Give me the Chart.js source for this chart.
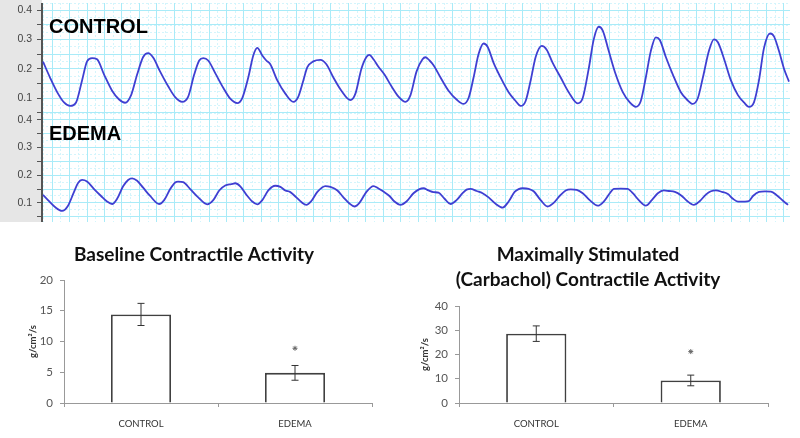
<!DOCTYPE html>
<html>
<head>
<meta charset="utf-8">
<script src="https://cdn.jsdelivr.net/npm/chart.js@4.4.1/dist/chart.umd.min.js"></script>
<style>
  body { margin: 0; width: 800px; height: 438px; background: #fff; position: relative; overflow: hidden; }
  canvas, .lbl, .strip { position: absolute; }
  .strip { left: 0; top: 0; width: 42px; height: 222px; background: #e6e6e6; }
  .lbl { left: 49px; font: bold 20px "Liberation Sans", Arial, sans-serif; line-height: 20px; color: #000; }
</style>
</head>
<body>
<div class="strip"></div>
<canvas id="control" width="790" height="110" style="left:0;top:3px"></canvas>
<canvas id="edema" width="790" height="109" style="left:0;top:113px"></canvas>
<div class="lbl" style="top:16px">CONTROL</div>
<div class="lbl" style="top:123px">EDEMA</div>
<canvas id="baseline" width="372" height="208" style="left:16px;top:230px"></canvas>
<canvas id="carbachol" width="368" height="208" style="left:408px;top:230px"></canvas>
<script>
// ---- tension traces (time in arbitrary units, force in g) ----
const controlTime = [43,50,58,64,70,76,82,87,92,97,104,112,119,125,131,137,143,148,153,160,168,175,182,188,194,199,203,208,215,223,230,237,242,248,253,257,262,266,270,277,285,293,298,303,307,313,320,326,333,341,350,355,361,366,369,373,378,384,391,398,405,410,416,422,425,429,433,440,448,456,463,468,473,478,483,487,493,500,508,515,520,525,530,535,541,546,552,560,568,577,582,588,593,598,602,608,615,622,629,635,640,645,650,655,659,665,672,680,686,692,697,702,708,713,717,723,730,737,743,748,753,758,763,769,773,778,783,788];
const controlForce = [0.224,0.17,0.115,0.085,0.073,0.085,0.16,0.225,0.236,0.232,0.18,0.125,0.095,0.084,0.11,0.18,0.24,0.253,0.238,0.19,0.14,0.103,0.087,0.105,0.18,0.228,0.236,0.228,0.185,0.135,0.098,0.083,0.1,0.17,0.245,0.271,0.245,0.228,0.215,0.16,0.115,0.087,0.105,0.16,0.205,0.225,0.23,0.215,0.17,0.125,0.093,0.115,0.2,0.24,0.247,0.232,0.207,0.18,0.14,0.105,0.087,0.11,0.19,0.232,0.239,0.228,0.212,0.17,0.125,0.095,0.08,0.1,0.17,0.25,0.286,0.275,0.22,0.17,0.12,0.09,0.073,0.09,0.16,0.24,0.278,0.265,0.22,0.17,0.12,0.082,0.1,0.2,0.3,0.343,0.33,0.26,0.18,0.12,0.085,0.07,0.09,0.17,0.26,0.307,0.298,0.24,0.18,0.12,0.095,0.08,0.1,0.17,0.26,0.3,0.29,0.235,0.16,0.11,0.085,0.07,0.085,0.16,0.27,0.32,0.31,0.26,0.2,0.156];

const edemaTime = [43,48,55,62,68,74,78,82,87,94,101,107,112,117,123,128,132,137,143,150,159,164,170,175,178,183,190,198,207,213,219,225,231,235,240,246,252,257,262,268,275,280,285,290,296,301,306,311,317,325,330,337,343,349,354,359,366,373,378,383,389,394,400,406,413,419,423,428,433,438,444,450,456,462,466,470,476,482,488,495,502,508,514,518,522,528,533,540,547,553,559,565,570,576,582,589,597,603,609,613,620,627,632,638,645,651,657,663,668,674,680,686,693,699,705,710,715,721,727,732,737,744,748,752,758,764,770,776,782,787];
const edemaForce = [0.129,0.11,0.085,0.071,0.09,0.14,0.172,0.183,0.177,0.15,0.125,0.105,0.096,0.115,0.16,0.183,0.189,0.18,0.155,0.125,0.096,0.11,0.15,0.174,0.177,0.175,0.15,0.12,0.095,0.11,0.145,0.163,0.168,0.171,0.16,0.13,0.105,0.095,0.11,0.145,0.162,0.158,0.145,0.139,0.12,0.103,0.093,0.107,0.14,0.161,0.158,0.145,0.12,0.098,0.087,0.1,0.14,0.161,0.152,0.141,0.125,0.105,0.093,0.105,0.135,0.15,0.153,0.145,0.139,0.137,0.115,0.096,0.11,0.135,0.148,0.151,0.143,0.135,0.12,0.097,0.083,0.105,0.14,0.15,0.153,0.151,0.142,0.11,0.087,0.1,0.125,0.145,0.149,0.147,0.135,0.11,0.09,0.105,0.135,0.151,0.152,0.151,0.135,0.11,0.09,0.11,0.135,0.145,0.143,0.14,0.128,0.108,0.093,0.107,0.13,0.142,0.145,0.14,0.132,0.115,0.105,0.105,0.107,0.125,0.14,0.142,0.141,0.127,0.108,0.093];

// ---- bar charts ----
const groups = ['CONTROL', 'EDEMA'];
const baselineMean = [14.4, 4.9];
const baselineErr = [1.8, 1.2];
const baselineStar = [null, 8.9];
const carbacholMean = [28.6, 9.3];
const carbacholErr = [3.2, 2.2];
const carbacholStar = [null, 21.2];

const tickLabel = v => Math.abs(v * 10 - Math.round(v * 10)) < 1e-6 ? v.toFixed(1) : '';

function traceChart(id, times, force, yMin, yMax, bottomLine) {
  const pts = times.map((t, i) => ({ x: t, y: force[i] }));
  return new Chart(document.getElementById(id), {
    type: 'line',
    data: { datasets: [{ data: pts, borderColor: '#3f3fd2', borderWidth: 1.8, pointRadius: 0, cubicInterpolationMode: 'monotone' }] },
    options: {
      responsive: false,
      animation: false,
      layout: { padding: 0 },
      plugins: { legend: { display: false }, tooltip: { enabled: false } },
      scales: {
        x2: {
          type: 'linear', position: 'top', min: 42, max: 789,
          ticks: { display: false, stepSize: 8.7, includeBounds: false },
          grid: { color: '#d4f5fc', drawTicks: false },
          border: { display: false, dash: [2, 2] },
          afterFit: s => { s.height = 0; }
        },
        y2: {
          position: 'right', min: yMin, max: yMax,
          ticks: { display: false, stepSize: 0.025, includeBounds: false },
          grid: { color: '#d4f5fc', drawTicks: false },
          border: { display: false, dash: [2, 2] },
          afterFit: s => { s.width = 0; s.paddingTop = 0; s.paddingBottom = 0; }
        },
        x: {
          type: 'linear', min: 42, max: 789,
          ticks: { display: false, stepSize: 17.4, includeBounds: false },
          grid: { color: '#a9ebf8', drawTicks: false },
          border: { display: bottomLine, color: '#9a9a9a', width: 1 },
          afterFit: s => { s.height = 0; }
        },
        y: {
          min: yMin, max: yMax,
          ticks: { stepSize: 0.05, includeBounds: false, autoSkip: false, padding: 5, color: '#444', font: { family: 'Liberation Sans', size: 10.5 }, callback: tickLabel },
          grid: { color: '#a9ebf8', tickColor: '#555', tickLength: 5 },
          border: { color: '#555', width: 2 },
          afterFit: s => { s.width = 42; s.paddingTop = 0; s.paddingBottom = 0; }
        }
      }
    }
  });
}

traceChart('control', controlTime, controlForce, 0.049, 0.424, false);
traceChart('edema', edemaTime, edemaForce, 0.031, 0.425, true);

// error bars drawn from the mean/err arrays through the y scale
const errorBars = {
  id: 'errorBars',
  afterDatasetsDraw(chart, args, opts) {
    const meta = chart.getDatasetMeta(0);
    const y = chart.scales.y;
    const ctx = chart.ctx;
    ctx.save();
    ctx.strokeStyle = '#333';
    ctx.lineWidth = 1;
    meta.data.forEach((bar, i) => {
      const v = chart.data.datasets[0].data[i];
      const top = y.getPixelForValue(v + opts.errors[i]);
      const bot = y.getPixelForValue(v - opts.errors[i]);
      ctx.beginPath();
      ctx.moveTo(bar.x, top); ctx.lineTo(bar.x, bot);
      ctx.moveTo(bar.x - 3.5, top); ctx.lineTo(bar.x + 3.5, top);
      ctx.moveTo(bar.x - 3.5, bot); ctx.lineTo(bar.x + 3.5, bot);
      ctx.stroke();
    });
    ctx.restore();
  }
};

function barChart(id, title, means, errs, stars, yMax, yStep, axisWidth, padRight, titlePad, yTitlePad) {
  return new Chart(document.getElementById(id), {
    type: 'bar',
    data: {
      labels: groups,
      datasets: [
        { data: means, backgroundColor: '#fff', borderColor: '#404040', borderWidth: 1.8, categoryPercentage: 1, barPercentage: 0.39 },
        { type: 'line', data: stars, showLine: false, pointStyle: 'star', pointRadius: 2.5, borderColor: '#666', borderWidth: 1 }
      ]
    },
    plugins: [errorBars],
    options: {
      responsive: false,
      animation: false,
      layout: { padding: { right: padRight } },
      plugins: {
        legend: { display: false },
        tooltip: { enabled: false },
        title: { display: true, text: title, color: '#111', font: { family: 'Lato', weight: 'bold', size: 19, lineHeight: 1.316 }, padding: titlePad },
        errorBars: { errors: errs }
      },
      scales: {
        x: {
          ticks: { color: '#333', padding: 11, font: { family: 'Lato', size: 9.5 } },
          grid: { drawOnChartArea: false, tickLength: 4, color: '#999' },
          border: { color: '#999' },
          afterFit: s => { s.height = 35; }
        },
        y: {
          min: 0, max: yMax,
          ticks: { stepSize: yStep, padding: 7, color: '#555', font: { family: 'Lato', size: 11.5 } },
          grid: { drawOnChartArea: false, tickLength: 4, color: '#999' },
          border: { color: '#999' },
          title: { display: true, text: 'g/cm\u00b2/s', color: '#333', font: { family: 'Lato', weight: 'bold', size: 9.5 }, padding: { top: yTitlePad, bottom: 0 } },
          afterFit: s => { s.width = axisWidth; s.paddingTop = 0; s.paddingBottom = 0; }
        }
      }
    }
  });
}

barChart('baseline', 'Baseline Contractile Activity', baselineMean, baselineErr, baselineStar, 20, 5, 48, 16, { top: 12.5, bottom: 12.5 }, 11);
barChart('carbachol', ['Maximally Stimulated', '(Carbachol) Contractile Activity'], carbacholMean, carbacholErr, carbacholStar, 40, 10, 51, 8, { top: 12.5, bottom: 13.5 }, 11);
</script>
</body>
</html>
